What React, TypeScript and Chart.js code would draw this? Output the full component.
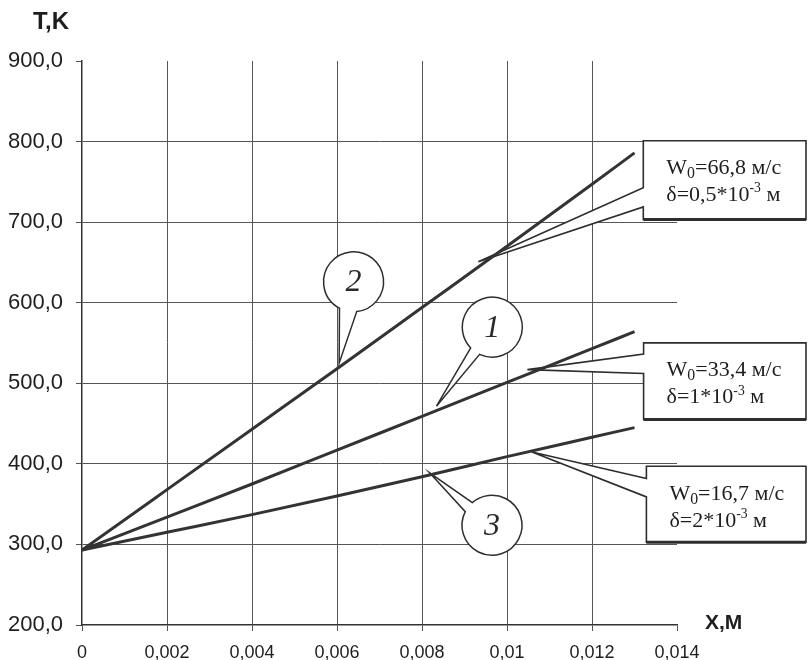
import React, { useEffect, useRef } from 'react';
import { Chart, registerables } from 'chart.js';

Chart.register(...registerables);

// ---- data ----
const xValues = [0, 0.002, 0.004, 0.006, 0.008, 0.01, 0.012, 0.013];
const curve1 = [293, 334, 375, 417, 459, 501, 543, 564];
const curve2 = [293, 368, 443, 518, 594, 670, 747, 786];
const curve3 = [293, 315, 337, 360, 384, 409, 433, 445];
const curveNames = ['1', '2', '3'];

const xMin = 0;
const xMax = 0.014;
const xStep = 0.002;
const yMin = 200;
const yMax = 900;
const yStep = 100;

const yAxisTitle = 'T,K';
const xAxisTitle = 'X,M';

// parameter boxes (top to bottom)
const velocities = ['66,8', '33,4', '16,7'];
const thicknesses = ['0,5', '1', '2'];
// box geometry in data coordinates: left x, top y, bottom y, wedge attach y1/y2, tip x/y
const boxLeftX = [0.013207, 0.013214, 0.01328];
const boxTopY = [801, 550.2, 397.1];
const boxBottomY = [703.4, 455.1, 302.7];
const boxAttach1Y = [742.6, 536.2, 381.8];
const boxAttach2Y = [718.9, 512.2, 359];
const boxTipX = [0.009325, 0.01048, 0.010588];
const boxTipY = [650.8, 517, 414.8];

// numbered callouts
const calloutLabels = ['2', '1', '3'];
const calloutCX = [0.00639, 0.009654, 0.009647];
const calloutCY = [626, 569.7, 323.8];
const calloutTipX = [0.00605, 0.00834, 0.008179];
const calloutTipY = [525, 471.6, 388.8];
const calloutA1 = [118, 136, 229]; // degrees, attach angles on circle
const calloutA2 = [84, 115, 207];

const INK = '#2e2e2e';
const GRID = '#555555';

type Seg = { t: string; sub?: boolean; sup?: boolean };

function drawRich(ctx: CanvasRenderingContext2D, x: number, yCenter: number, segs: Seg[], size: number) {
  let cx = x;
  const base = yCenter + size * 0.34;
  ctx.textBaseline = 'alphabetic';
  ctx.textAlign = 'left';
  for (const s of segs) {
    const fs = s.sub ? size * 0.72 : s.sup ? size * 0.62 : size;
    ctx.font = `${fs}px 'Liberation Serif', 'Times New Roman', serif`;
    const dy = s.sub ? size * 0.18 : s.sup ? -size * 0.4 : 0;
    ctx.fillText(s.t, cx, base + dy);
    cx += ctx.measureText(s.t).width;
  }
}

const annotationPlugin = {
  id: 'annotations',
  beforeDatasetsDraw(chart: any) {
    const { ctx } = chart;
    const xs = chart.scales.x;
    const ys = chart.scales.y;
    const px = (v: number) => xs.getPixelForValue(v);
    const py = (v: number) => ys.getPixelForValue(v);
    ctx.save();
    ctx.lineJoin = 'miter';

    // parameter boxes
    for (let i = 0; i < velocities.length; i++) {
      const L = px(boxLeftX[i]);
      const T = py(boxTopY[i]);
      const B = py(boxBottomY[i]);
      const R = chart.width - 2;
      const a1 = py(boxAttach1Y[i]);
      const a2 = py(boxAttach2Y[i]);
      const tx = px(boxTipX[i]);
      const ty = py(boxTipY[i]);
      ctx.beginPath();
      ctx.moveTo(L, T);
      ctx.lineTo(R, T);
      ctx.lineTo(R, B);
      ctx.lineTo(L, B);
      ctx.lineTo(L, a2);
      ctx.lineTo(tx, ty);
      ctx.lineTo(L, a1);
      ctx.closePath();
      ctx.fillStyle = '#ffffff';
      ctx.fill();
      ctx.strokeStyle = INK;
      ctx.lineWidth = 1.6;
      ctx.stroke();
      ctx.beginPath();
      ctx.moveTo(L, B);
      ctx.lineTo(R, B);
      ctx.lineWidth = 3;
      ctx.stroke();

      ctx.fillStyle = '#1e1e1e';
      drawRich(ctx, L + 23, T + 26, [
        { t: 'W' },
        { t: '0', sub: true },
        { t: `=${velocities[i]} м/с` },
      ], 22);
      drawRich(ctx, L + 23, T + 53, [
        { t: `δ=${thicknesses[i]}*10` },
        { t: '-3', sup: true },
        { t: ' м' },
      ], 22);
    }

    // numbered callouts
    const r = 30;
    for (let i = 0; i < calloutLabels.length; i++) {
      const cx = px(calloutCX[i]);
      const cy = py(calloutCY[i]);
      const tx = px(calloutTipX[i]);
      const ty = py(calloutTipY[i]);
      const t1 = (calloutA1[i] * Math.PI) / 180;
      const t2 = (calloutA2[i] * Math.PI) / 180;
      const hi = Math.max(t1, t2);
      const lo = Math.min(t1, t2);
      ctx.beginPath();
      ctx.moveTo(cx + r * Math.cos(hi), cy + r * Math.sin(hi));
      ctx.lineTo(tx, ty);
      ctx.lineTo(cx + r * Math.cos(lo), cy + r * Math.sin(lo));
      ctx.arc(cx, cy, r, lo, hi, true);
      ctx.closePath();
      ctx.fillStyle = '#ffffff';
      ctx.fill();
      ctx.strokeStyle = INK;
      ctx.lineWidth = 1.5;
      ctx.stroke();

      ctx.fillStyle = '#2a2a2a';
      ctx.font = "italic 32px 'Liberation Serif', serif";
      ctx.textAlign = 'center';
      ctx.textBaseline = 'middle';
      ctx.fillText(calloutLabels[i], cx, cy + 1);
    }

    // axis titles
    ctx.fillStyle = '#1e1e1e';
    ctx.font = "bold 24px 'Liberation Sans Narrow', 'Liberation Sans', sans-serif";
    ctx.textAlign = 'left';
    ctx.textBaseline = 'middle';
    ctx.fillText(yAxisTitle, 33, 22);
    ctx.font = "bold 21px 'Liberation Sans Narrow', 'Liberation Sans', sans-serif";
    ctx.fillText(xAxisTitle, 705, py(yMin) - 2);
    ctx.restore();
  },
};

export default function App() {
  const ref = useRef<HTMLCanvasElement | null>(null);

  useEffect(() => {
    document.body.style.margin = '0';
    const canvas = ref.current;
    if (!canvas) return;
    const mk = (vals: number[]) => xValues.map((x, i) => ({ x, y: vals[i] }));
    const series = [curve1, curve2, curve3];
    const chart = new Chart(canvas, {
      type: 'line',
      data: {
        datasets: series.map((s, i) => ({
          label: curveNames[i],
          data: mk(s),
          borderColor: '#333333',
          borderWidth: 3,
          pointRadius: 0,
          fill: false,
          cubicInterpolationMode: 'monotone' as const,
        })),
      },
      options: {
        responsive: false,
        animation: false,
        devicePixelRatio: 1,
        layout: { padding: { top: 61, right: 131, bottom: 0, left: 0 } },
        plugins: { legend: { display: false }, tooltip: { enabled: false } },
        scales: {
          x: {
            type: 'linear',
            min: xMin,
            max: xMax,
            afterFit: (s: any) => {
              s.height = 35;
            },
            ticks: {
              stepSize: xStep,
              padding: 11,
              color: '#1e1e1e',
              font: { family: "'Liberation Sans Narrow', 'Liberation Sans', sans-serif", size: 18 },
              maxRotation: 0,
              callback: (v: any) => (Number(v) === 0 ? '0' : String(+Number(v).toFixed(4)).replace('.', ',')),
            },
            grid: {
              color: (c: any) =>
                Math.abs(c.tick?.value - xMax) < 1e-9 || Math.abs(c.tick?.value) < 1e-9 ? 'rgba(0,0,0,0)' : GRID,
              tickColor: GRID,
              tickLength: 6,
              lineWidth: 1,
            },
            border: { display: true, color: '#333333', width: 1.5 },
          },
          y: {
            type: 'linear',
            min: yMin,
            max: yMax,
            afterFit: (s: any) => {
              s.width = 82;
            },
            ticks: {
              stepSize: yStep,
              padding: 13,
              color: '#1e1e1e',
              font: { family: "'Liberation Sans', Arial, sans-serif", size: 22 },
              callback: (v: any) => Number(v).toFixed(1).replace('.', ','),
            },
            grid: {
              color: (c: any) =>
                Math.abs(c.tick?.value - yMax) < 1e-9 || Math.abs(c.tick?.value - yMin) < 1e-9 ? 'rgba(0,0,0,0)' : GRID,
              tickColor: GRID,
              tickLength: 6,
              lineWidth: 1,
            },
            border: { display: true, color: '#333333', width: 1.5 },
          },
        },
      },
      plugins: [annotationPlugin],
    });
    return () => chart.destroy();
  }, []);

  return <canvas ref={ref} width={808} height={660} style={{ display: 'block' }} />;
}
